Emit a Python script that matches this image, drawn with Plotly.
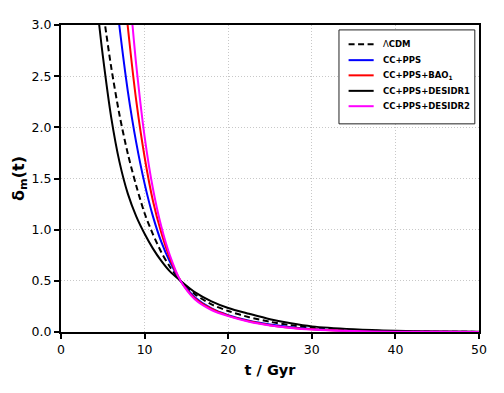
import plotly.graph_objects as go

# ---- data ----
t_lcdm = [5.0, 5.27, 6, 7, 8, 9, 10, 11, 12, 13, 14.3, 16, 18, 20, 22.5, 25, 27.5, 30, 35, 40, 45, 50]
d_lcdm = [3.17, 3.0, 2.59, 2.12, 1.74, 1.43, 1.16, 0.955, 0.78, 0.64, 0.5, 0.37, 0.27, 0.205, 0.145, 0.10, 0.065, 0.042, 0.018, 0.008, 0.003, 0.001]

t_pps = [6.7, 6.97, 8, 9, 10, 11, 12, 13, 14.3, 16, 18, 20, 22.5, 25, 27.5, 30, 35, 40, 45, 50]
d_pps = [3.2, 3.0, 2.35, 1.85, 1.45, 1.13, 0.88, 0.69, 0.5, 0.34, 0.23, 0.165, 0.11, 0.073, 0.047, 0.03, 0.012, 0.005, 0.002, 0.001]

t_bao = [7.7, 7.97, 9, 10, 11, 12, 13, 14.3, 16, 18, 20, 22.5, 25, 27.5, 30, 35, 40, 45, 50]
d_bao = [3.23, 3.0, 2.26, 1.71, 1.28, 0.97, 0.725, 0.5, 0.33, 0.225, 0.16, 0.105, 0.067, 0.042, 0.026, 0.010, 0.004, 0.0015, 0.0005]

t_dr1 = [4.3, 4.57, 5, 6, 7, 8, 9, 10, 11, 12, 13, 14.3, 16, 18, 20, 22.5, 25, 27.5, 30, 35, 40, 45, 50]
d_dr1 = [3.22, 3.0, 2.7, 2.1, 1.66, 1.35, 1.13, 0.96, 0.815, 0.695, 0.595, 0.5, 0.39, 0.3, 0.235, 0.178, 0.125, 0.085, 0.055, 0.027, 0.012, 0.006, 0.003]

t_dr2 = [8.3, 8.55, 9, 10, 11, 12, 13, 14.3, 16, 18, 20, 22.5, 25, 27.5, 30, 35, 40, 45, 50]
d_dr2 = [3.24, 3.0, 2.61, 1.91, 1.40, 1.03, 0.755, 0.5, 0.32, 0.215, 0.155, 0.10, 0.064, 0.040, 0.024, 0.009, 0.0035, 0.0013, 0.0005]

x_ticks = [0, 10, 20, 30, 40, 50]
y_ticks = [0.0, 0.5, 1.0, 1.5, 2.0, 2.5, 3.0]

FONT = "DejaVu Sans"
DASH = "6px,3.5px"

series = [
    ("\u039b<b>CDM</b>", t_lcdm, d_lcdm, "black", DASH),
    ("<b>CC+PPS</b>", t_pps, d_pps, "blue", "solid"),
    ("<b>CC+PPS+BAO<sub>1</sub></b>", t_bao, d_bao, "red", "solid"),
    ("<b>CC+PPS+DESIDR1</b>", t_dr1, d_dr1, "black", "solid"),
    ("<b>CC+PPS+DESIDR2</b>", t_dr2, d_dr2, "magenta", "solid"),
]

fig = go.Figure()
for name, t, d, col, dash in series:
    fig.add_trace(go.Scatter(
        x=t, y=d, mode="lines", name=name, showlegend=False,
        line=dict(color=col, width=2, dash=dash, shape="spline", smoothing=0.8),
    ))

# ---- hand-built legend (matplotlib-style box) ----
box_x0, box_x1, box_y0, box_y1 = 0.665, 0.990, 0.678, 0.984
row_y = [0.937, 0.8855, 0.836, 0.7855, 0.7355]
line_x0, line_x1, text_x = 0.688, 0.748, 0.7655
shapes = [dict(type="rect", xref="paper", yref="paper",
               x0=box_x0, x1=box_x1, y0=box_y0, y1=box_y1,
               line=dict(color="#222222", width=1), fillcolor="white", layer="above")]
annotations = []
for (name, _, _, col, dash), yy in zip(series, row_y):
    shapes.append(dict(type="line", xref="paper", yref="paper",
                       x0=line_x0, x1=line_x1, y0=yy, y1=yy,
                       line=dict(color=col, width=2, dash=dash), layer="above"))
    annotations.append(dict(xref="paper", yref="paper", x=text_x, y=yy,
                            text=name, showarrow=False,
                            xanchor="left", yanchor="middle",
                            font=dict(family=FONT, size=8.5, color="black")))

axis_common = dict(
    showline=True, linecolor="black", linewidth=2, mirror=True,
    ticks="outside", ticklen=5, tickwidth=1.5, tickcolor="black",
    showgrid=True, gridcolor="#c8c8c8", griddash="1px,2px", gridwidth=1,
    zeroline=False,
    tickfont=dict(family=FONT, size=12.5, color="black"),
)

fig.update_xaxes(
    range=[0, 50], tickvals=x_ticks, ticktext=[str(v) for v in x_ticks],
    title=dict(text="<b>t / Gyr</b>", font=dict(family=FONT, size=14.5, color="black"), standoff=9),
    **axis_common,
)
fig.update_yaxes(
    range=[0, 3], tickvals=y_ticks, ticktext=[f"{v:.1f}" for v in y_ticks],
    title=dict(text="<b>\u03b4<sub>m</sub>(t)</b>", font=dict(family=FONT, size=16, color="black"), standoff=3),
    **axis_common,
)

fig.update_layout(
    width=488, height=377,
    margin=dict(l=47, r=9, t=9, b=50),
    paper_bgcolor="white", plot_bgcolor="white",
    font=dict(family=FONT, color="black"),
    showlegend=False,
    shapes=shapes, annotations=annotations,
)

fig.write_html("out.html")
